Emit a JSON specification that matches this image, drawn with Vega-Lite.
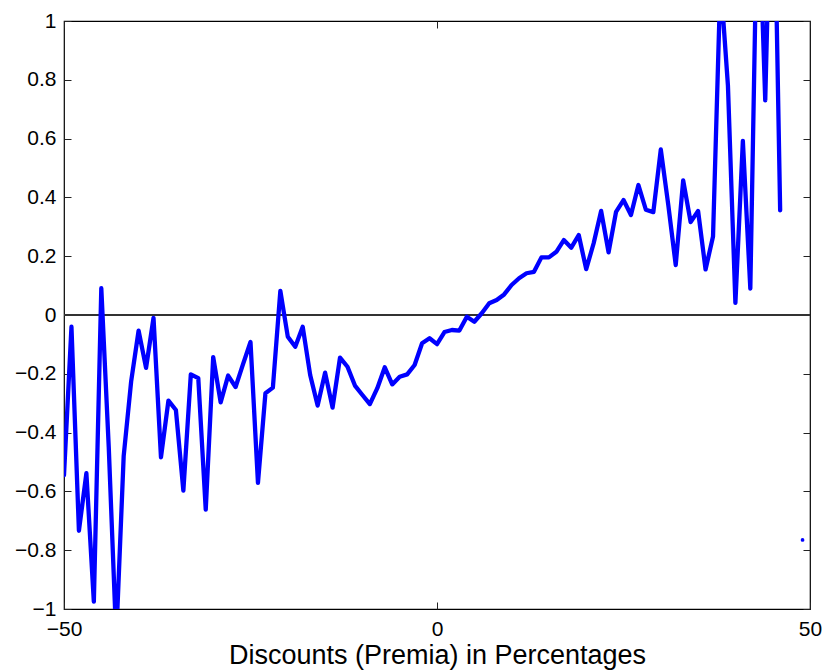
{
  "$schema": "https://vega.github.io/schema/vega-lite/v6.json",
  "autosize": {"type": "none"},
  "padding": {"left": 64, "top": 21, "right": 14, "bottom": 63},
  "width": 746,
  "height": 588,
  "background": "white",
  "config": {
    "view": {"stroke": "black", "strokeWidth": 1.2},
    "font": "Liberation Sans",
    "axis": {
      "domain": false,
      "grid": false,
      "tickColor": "#222",
      "tickWidth": 1,
      "tickSize": -7,
      "labelFont": "Liberation Sans",
      "labelFontSize": 21,
      "labelColor": "black",
      "titleFont": "Liberation Sans",
      "titleColor": "black",
      "titleFontWeight": "normal"
    }
  },
  "datasets": {
    "pts": [
      {"x": -50, "v": -0.545, "s": "line"},
      {"x": -49, "v": -0.040, "s": "line"},
      {"x": -48, "v": -0.734, "s": "line"},
      {"x": -47, "v": -0.538, "s": "line"},
      {"x": -46, "v": -0.975, "s": "line"},
      {"x": -45, "v": 0.091, "s": "line"},
      {"x": -44, "v": -0.45, "s": "line"},
      {"x": -43, "v": -1.1, "s": "line"},
      {"x": -42, "v": -0.48, "s": "line"},
      {"x": -41, "v": -0.226, "s": "line"},
      {"x": -40, "v": -0.053, "s": "line"},
      {"x": -39, "v": -0.18, "s": "line"},
      {"x": -38, "v": -0.010, "s": "line"},
      {"x": -37, "v": -0.484, "s": "line"},
      {"x": -36, "v": -0.291, "s": "line"},
      {"x": -35, "v": -0.323, "s": "line"},
      {"x": -34, "v": -0.597, "s": "line"},
      {"x": -33, "v": -0.202, "s": "line"},
      {"x": -32, "v": -0.215, "s": "line"},
      {"x": -31, "v": -0.662, "s": "line"},
      {"x": -30, "v": -0.143, "s": "line"},
      {"x": -29, "v": -0.297, "s": "line"},
      {"x": -28, "v": -0.206, "s": "line"},
      {"x": -27, "v": -0.245, "s": "line"},
      {"x": -26, "v": -0.167, "s": "line"},
      {"x": -25, "v": -0.092, "s": "line"},
      {"x": -24, "v": -0.571, "s": "line"},
      {"x": -23, "v": -0.266, "s": "line"},
      {"x": -22, "v": -0.247, "s": "line"},
      {"x": -21, "v": 0.082, "s": "line"},
      {"x": -20, "v": -0.074, "s": "line"},
      {"x": -19, "v": -0.108, "s": "line"},
      {"x": -18, "v": -0.040, "s": "line"},
      {"x": -17, "v": -0.204, "s": "line"},
      {"x": -16, "v": -0.308, "s": "line"},
      {"x": -15, "v": -0.196, "s": "line"},
      {"x": -14, "v": -0.315, "s": "line"},
      {"x": -13, "v": -0.145, "s": "line"},
      {"x": -12, "v": -0.176, "s": "line"},
      {"x": -11, "v": -0.240, "s": "line"},
      {"x": -10, "v": -0.272, "s": "line"},
      {"x": -9, "v": -0.303, "s": "line"},
      {"x": -8, "v": -0.249, "s": "line"},
      {"x": -7, "v": -0.178, "s": "line"},
      {"x": -6, "v": -0.236, "s": "line"},
      {"x": -5, "v": -0.210, "s": "line"},
      {"x": -4, "v": -0.202, "s": "line"},
      {"x": -3, "v": -0.170, "s": "line"},
      {"x": -2, "v": -0.096, "s": "line"},
      {"x": -1, "v": -0.079, "s": "line"},
      {"x": 0, "v": -0.099, "s": "line"},
      {"x": 1, "v": -0.058, "s": "line"},
      {"x": 2, "v": -0.051, "s": "line"},
      {"x": 3, "v": -0.053, "s": "line"},
      {"x": 4, "v": -0.006, "s": "line"},
      {"x": 5, "v": -0.023, "s": "line"},
      {"x": 6, "v": 0.006, "s": "line"},
      {"x": 7, "v": 0.040, "s": "line"},
      {"x": 8, "v": 0.051, "s": "line"},
      {"x": 9, "v": 0.070, "s": "line"},
      {"x": 10, "v": 0.102, "s": "line"},
      {"x": 11, "v": 0.125, "s": "line"},
      {"x": 12, "v": 0.142, "s": "line"},
      {"x": 13, "v": 0.147, "s": "line"},
      {"x": 14, "v": 0.196, "s": "line"},
      {"x": 15, "v": 0.196, "s": "line"},
      {"x": 16, "v": 0.215, "s": "line"},
      {"x": 17, "v": 0.255, "s": "line"},
      {"x": 18, "v": 0.229, "s": "line"},
      {"x": 19, "v": 0.272, "s": "line"},
      {"x": 20, "v": 0.156, "s": "line"},
      {"x": 21, "v": 0.244, "s": "line"},
      {"x": 22, "v": 0.354, "s": "line"},
      {"x": 23, "v": 0.213, "s": "line"},
      {"x": 24, "v": 0.351, "s": "line"},
      {"x": 25, "v": 0.391, "s": "line"},
      {"x": 26, "v": 0.340, "s": "line"},
      {"x": 27, "v": 0.442, "s": "line"},
      {"x": 28, "v": 0.358, "s": "line"},
      {"x": 29, "v": 0.350, "s": "line"},
      {"x": 30, "v": 0.563, "s": "line"},
      {"x": 31, "v": 0.375, "s": "line"},
      {"x": 32, "v": 0.170, "s": "line"},
      {"x": 33, "v": 0.458, "s": "line"},
      {"x": 34, "v": 0.316, "s": "line"},
      {"x": 35, "v": 0.354, "s": "line"},
      {"x": 36, "v": 0.155, "s": "line"},
      {"x": 37, "v": 0.267, "s": "line"},
      {"x": 38, "v": 1.14, "s": "line"},
      {"x": 39, "v": 0.78, "s": "line"},
      {"x": 40, "v": 0.041, "s": "line"},
      {"x": 41, "v": 0.592, "s": "line"},
      {"x": 42, "v": 0.090, "s": "line"},
      {"x": 43, "v": 1.5, "s": "line"},
      {"x": 44, "v": 0.730, "s": "line"},
      {"x": 45, "v": 1.75, "s": "line"},
      {"x": 46, "v": 0.356, "s": "line"},
      {"x": 49, "v": -0.765, "s": "dot"}
    ]
  },
  "data": {"name": "pts"},
  "resolve": {"axis": {"x": "independent", "y": "independent"}},
  "layer": [
    {
      "mark": {"type": "rule", "color": "#333", "strokeWidth": 1.3},
      "encoding": {
        "y": {
          "datum": 0,
          "type": "quantitative",
          "scale": {"domain": [-1, 1], "nice": false, "zero": false},
          "axis": {"orient": "right", "labels": false, "values": [-1, -0.8, -0.6, -0.4, -0.2, 0, 0.2, 0.4, 0.6, 0.8, 1], "title": null}
        }
      }
    },
    {
      "transform": [{"filter": "datum.s === 'line'"}],
      "mark": {"type": "line", "color": "#0000ff", "strokeWidth": 4.3, "strokeJoin": "round", "strokeCap": "round", "clip": true},
      "encoding": {
        "x": {
          "field": "x",
          "type": "quantitative",
          "scale": {"domain": [-50, 50], "nice": false, "zero": false},
          "axis": {"orient": "bottom", "values": [-50, 0, 50], "labelPadding": 16, "labelFontSize": 21, "title": "Discounts (Premia) in Percentages", "titleFontSize": 27, "titlePadding": 3, "labelFlush": false}
        },
        "y": {
          "field": "v",
          "type": "quantitative",
          "scale": {"domain": [-1, 1], "nice": false, "zero": false},
          "axis": {"orient": "left", "values": [-1, -0.8, -0.6, -0.4, -0.2, 0, 0.2, 0.4, 0.6, 0.8, 1], "format": "~g", "labelPadding": 15, "labelFontSize": 21, "title": null}
        }
      }
    },
    {
      "transform": [{"filter": "datum.s === 'dot'"}],
      "mark": {"type": "point", "filled": true, "color": "#0000ff", "size": 14, "opacity": 1},
      "encoding": {
        "x": {
          "field": "x",
          "type": "quantitative",
          "scale": {"domain": [-50, 50], "nice": false, "zero": false},
          "axis": {"orient": "top", "labels": false, "values": [-50, 0, 50], "title": null}
        },
        "y": {
          "field": "v",
          "type": "quantitative",
          "scale": {"domain": [-1, 1], "nice": false, "zero": false},
          "axis": null
        }
      }
    }
  ]
}
